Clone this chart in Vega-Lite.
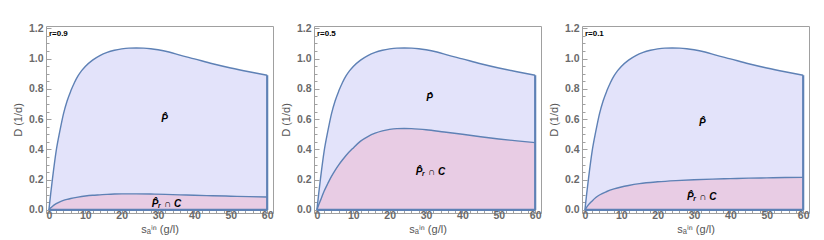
{
  "$schema": "https://vega.github.io/schema/vega-lite/v6.json",
  "background": "white",
  "padding": {"left": 11, "top": 22, "right": 0, "bottom": 0},
  "config": {
    "view": {"stroke": "#a0a0a0", "strokeWidth": 1},
    "concat": {"spacing": 5},
    "axis": {
      "grid": false, "domain": false, "labelOverlap": false, "labelSeparation": 0, "zindex": 1,
      "labelFont": "Liberation Sans", "labelFontWeight": "bold", "labelFontSize": 10.5, "labelColor": "#6a6a6a",
      "titleFont": "Liberation Sans", "titleFontWeight": "normal", "titleFontSize": 11, "titleColor": "#555555",
      "tickColor": "#a0a0a0"
    }
  },
  "datasets": {
    "upper": [
      {"x": 0, "d": 0}, {"x": 0.5, "d": 0.11}, {"x": 1, "d": 0.21}, {"x": 2, "d": 0.39}, {"x": 3, "d": 0.52},
      {"x": 4, "d": 0.635}, {"x": 5, "d": 0.72}, {"x": 6, "d": 0.785}, {"x": 7, "d": 0.84}, {"x": 8, "d": 0.885},
      {"x": 9, "d": 0.92}, {"x": 10, "d": 0.948}, {"x": 12, "d": 0.99}, {"x": 14, "d": 1.02}, {"x": 16, "d": 1.041},
      {"x": 18, "d": 1.055}, {"x": 20, "d": 1.064}, {"x": 22, "d": 1.069}, {"x": 24, "d": 1.07}, {"x": 26, "d": 1.069},
      {"x": 28, "d": 1.065}, {"x": 30, "d": 1.058}, {"x": 33, "d": 1.043}, {"x": 36, "d": 1.023}, {"x": 40, "d": 0.998},
      {"x": 45, "d": 0.966}, {"x": 50, "d": 0.938}, {"x": 55, "d": 0.913}, {"x": 60, "d": 0.89}
    ],
    "lower": [
      {"p": "a", "x": 0, "d": 0}, {"p": "a", "x": 0.5, "d": 0.014}, {"p": "a", "x": 1, "d": 0.025}, {"p": "a", "x": 2, "d": 0.042},
      {"p": "a", "x": 3, "d": 0.054}, {"p": "a", "x": 4, "d": 0.063}, {"p": "a", "x": 5, "d": 0.07}, {"p": "a", "x": 6, "d": 0.076},
      {"p": "a", "x": 8, "d": 0.085}, {"p": "a", "x": 10, "d": 0.092}, {"p": "a", "x": 12, "d": 0.097}, {"p": "a", "x": 14, "d": 0.1},
      {"p": "a", "x": 16, "d": 0.103}, {"p": "a", "x": 18, "d": 0.105}, {"p": "a", "x": 20, "d": 0.106}, {"p": "a", "x": 24, "d": 0.106},
      {"p": "a", "x": 28, "d": 0.105}, {"p": "a", "x": 32, "d": 0.103}, {"p": "a", "x": 36, "d": 0.1}, {"p": "a", "x": 40, "d": 0.097},
      {"p": "a", "x": 45, "d": 0.094}, {"p": "a", "x": 50, "d": 0.091}, {"p": "a", "x": 55, "d": 0.088}, {"p": "a", "x": 60, "d": 0.086},

      {"p": "b", "x": 0, "d": 0}, {"p": "b", "x": 0.5, "d": 0.034}, {"p": "b", "x": 1, "d": 0.065}, {"p": "b", "x": 2, "d": 0.125},
      {"p": "b", "x": 3, "d": 0.175}, {"p": "b", "x": 4, "d": 0.222}, {"p": "b", "x": 5, "d": 0.262}, {"p": "b", "x": 6, "d": 0.298},
      {"p": "b", "x": 7, "d": 0.33}, {"p": "b", "x": 8, "d": 0.36}, {"p": "b", "x": 10, "d": 0.41}, {"p": "b", "x": 12, "d": 0.455},
      {"p": "b", "x": 14, "d": 0.485}, {"p": "b", "x": 16, "d": 0.507}, {"p": "b", "x": 18, "d": 0.522}, {"p": "b", "x": 20, "d": 0.532},
      {"p": "b", "x": 22, "d": 0.537}, {"p": "b", "x": 24, "d": 0.538}, {"p": "b", "x": 26, "d": 0.537}, {"p": "b", "x": 28, "d": 0.534},
      {"p": "b", "x": 30, "d": 0.53}, {"p": "b", "x": 35, "d": 0.515}, {"p": "b", "x": 40, "d": 0.5}, {"p": "b", "x": 45, "d": 0.484},
      {"p": "b", "x": 50, "d": 0.469}, {"p": "b", "x": 55, "d": 0.456}, {"p": "b", "x": 60, "d": 0.445},

      {"p": "c", "x": 0, "d": 0}, {"p": "c", "x": 0.5, "d": 0.019}, {"p": "c", "x": 1, "d": 0.035}, {"p": "c", "x": 2, "d": 0.06},
      {"p": "c", "x": 3, "d": 0.082}, {"p": "c", "x": 4, "d": 0.099}, {"p": "c", "x": 6, "d": 0.122}, {"p": "c", "x": 8, "d": 0.139},
      {"p": "c", "x": 10, "d": 0.152}, {"p": "c", "x": 12, "d": 0.162}, {"p": "c", "x": 15, "d": 0.174}, {"p": "c", "x": 20, "d": 0.186},
      {"p": "c", "x": 25, "d": 0.194}, {"p": "c", "x": 30, "d": 0.2}, {"p": "c", "x": 35, "d": 0.204}, {"p": "c", "x": 40, "d": 0.207},
      {"p": "c", "x": 45, "d": 0.21}, {"p": "c", "x": 50, "d": 0.212}, {"p": "c", "x": 55, "d": 0.214}, {"p": "c", "x": 60, "d": 0.215}
    ],
    "labels": [
      {"p": "a", "k": "r", "x": 0, "d": 1.165, "t": "r=0.9"},
      {"p": "a", "k": "m", "x": 31.8, "d": 0.6, "t": "P̂"},
      {"p": "a", "k": "m", "x": 32.3, "d": 0.042, "t": "P̂ᵣ ∩ C"},
      {"p": "b", "k": "r", "x": 0, "d": 1.165, "t": "r=0.5"},
      {"p": "b", "k": "m", "x": 31, "d": 0.737, "t": "P̂"},
      {"p": "b", "k": "m", "x": 31.2, "d": 0.25, "t": "P̂ᵣ ∩ C"},
      {"p": "c", "k": "r", "x": 0, "d": 1.165, "t": "r=0.1"},
      {"p": "c", "k": "m", "x": 32.3, "d": 0.573, "t": "P̂"},
      {"p": "c", "k": "m", "x": 32.1, "d": 0.086, "t": "P̂ᵣ ∩ C"}
    ]
  },
  "hconcat": [
    {
      "width": 227, "height": 187,
      "encoding": {
        "x": {"field": "x", "type": "quantitative", "scale": {"domain": [-0.8, 61.6], "nice": false, "zero": false},
              "axis": {"values": [0,2,4,6,8,10,12,14,16,18,20,22,24,26,28,30,32,34,36,38,40,42,44,46,48,50,52,54,56,58,60],
                       "labelExpr": "datum.value % 10 === 0 ? datum.label : ''", "format": "d", "labelOverlap": false,
                       "tickSize": {"condition": {"test": "datum.value % 10 === 0", "value": -5}, "value": -3},
                       "labelPadding": 2, "title": "sₐⁱⁿ   (g/l)", "titlePadding": 1}},
        "y": {"field": "d", "type": "quantitative", "scale": {"domain": [-0.02, 1.215], "nice": false},
              "axis": {"values": [0,0.05,0.1,0.15,0.2,0.25,0.3,0.35,0.4,0.45,0.5,0.55,0.6,0.65,0.7,0.75,0.8,0.85,0.9,0.95,1,1.05,1.1,1.15,1.2],
                       "labelExpr": "round(datum.value*20) % 4 === 0 ? format(datum.value, '.1f') : ''", "labelOverlap": false,
                       "tickSize": {"condition": {"test": "round(datum.value*20) % 4 === 0", "value": -5}, "value": -3},
                       "labelPadding": 8, "title": "D   (1/d)", "titlePadding": 5}}
      },
      "layer": [
        {"data": {"name": "upper"}, "mark": {"type": "area", "color": "#E3E3FA", "interpolate": "monotone"}},
        {"data": {"name": "lower"}, "transform": [{"filter": "datum.p === 'a'"}], "mark": {"type": "area", "color": "#E8CCE4", "interpolate": "monotone"}},
        {"data": {"name": "upper"}, "mark": {"type": "line", "color": "#5E81B5", "strokeWidth": 1.4, "interpolate": "monotone"}},
        {"data": {"name": "lower"}, "transform": [{"filter": "datum.p === 'a'"}], "mark": {"type": "line", "color": "#5E81B5", "strokeWidth": 1.4, "interpolate": "monotone"}},
        {"data": {"name": "upper"}, "transform": [{"filter": "datum.x === 60"}], "mark": {"type": "rule", "color": "#5E81B5", "strokeWidth": 2.2},
         "encoding": {"y2": {"datum": 0}}},
        {"data": {"name": "upper"}, "mark": {"type": "line", "color": "#5E81B5", "strokeWidth": 2.2},
         "encoding": {"y": {"datum": 0}}},
        {"data": {"name": "labels"}, "transform": [{"filter": "datum.p === 'a' && datum.k === 'r'"}],
         "mark": {"type": "text", "align": "left", "baseline": "middle", "font": "Liberation Sans", "fontWeight": "bold", "fontSize": 8, "color": "black"},
         "encoding": {"text": {"field": "t"}}},
        {"data": {"name": "labels"}, "transform": [{"filter": "datum.p === 'a' && datum.k === 'm'"}],
         "mark": {"type": "text", "align": "center", "baseline": "middle", "font": "Liberation Sans", "fontWeight": "bold", "fontStyle": "italic", "fontSize": 10, "color": "black"},
         "encoding": {"text": {"field": "t"}}}
      ]
    },
    {
      "width": 227, "height": 187,
      "encoding": {
        "x": {"field": "x", "type": "quantitative", "scale": {"domain": [-0.8, 61.6], "nice": false, "zero": false},
              "axis": {"values": [0,2,4,6,8,10,12,14,16,18,20,22,24,26,28,30,32,34,36,38,40,42,44,46,48,50,52,54,56,58,60],
                       "labelExpr": "datum.value % 10 === 0 ? datum.label : ''", "format": "d", "labelOverlap": false,
                       "tickSize": {"condition": {"test": "datum.value % 10 === 0", "value": -5}, "value": -3},
                       "labelPadding": 2, "title": "sₐⁱⁿ   (g/l)", "titlePadding": 1}},
        "y": {"field": "d", "type": "quantitative", "scale": {"domain": [-0.02, 1.215], "nice": false},
              "axis": {"values": [0,0.05,0.1,0.15,0.2,0.25,0.3,0.35,0.4,0.45,0.5,0.55,0.6,0.65,0.7,0.75,0.8,0.85,0.9,0.95,1,1.05,1.1,1.15,1.2],
                       "labelExpr": "round(datum.value*20) % 4 === 0 ? format(datum.value, '.1f') : ''", "labelOverlap": false,
                       "tickSize": {"condition": {"test": "round(datum.value*20) % 4 === 0", "value": -5}, "value": -3},
                       "labelPadding": 8, "title": "D   (1/d)", "titlePadding": 5}}
      },
      "layer": [
        {"data": {"name": "upper"}, "mark": {"type": "area", "color": "#E3E3FA", "interpolate": "monotone"}},
        {"data": {"name": "lower"}, "transform": [{"filter": "datum.p === 'b'"}], "mark": {"type": "area", "color": "#E8CCE4", "interpolate": "monotone"}},
        {"data": {"name": "upper"}, "mark": {"type": "line", "color": "#5E81B5", "strokeWidth": 1.4, "interpolate": "monotone"}},
        {"data": {"name": "lower"}, "transform": [{"filter": "datum.p === 'b'"}], "mark": {"type": "line", "color": "#5E81B5", "strokeWidth": 1.4, "interpolate": "monotone"}},
        {"data": {"name": "upper"}, "transform": [{"filter": "datum.x === 60"}], "mark": {"type": "rule", "color": "#5E81B5", "strokeWidth": 2.2},
         "encoding": {"y2": {"datum": 0}}},
        {"data": {"name": "upper"}, "mark": {"type": "line", "color": "#5E81B5", "strokeWidth": 2.2},
         "encoding": {"y": {"datum": 0}}},
        {"data": {"name": "labels"}, "transform": [{"filter": "datum.p === 'b' && datum.k === 'r'"}],
         "mark": {"type": "text", "align": "left", "baseline": "middle", "font": "Liberation Sans", "fontWeight": "bold", "fontSize": 8, "color": "black"},
         "encoding": {"text": {"field": "t"}}},
        {"data": {"name": "labels"}, "transform": [{"filter": "datum.p === 'b' && datum.k === 'm'"}],
         "mark": {"type": "text", "align": "center", "baseline": "middle", "font": "Liberation Sans", "fontWeight": "bold", "fontStyle": "italic", "fontSize": 10, "color": "black"},
         "encoding": {"text": {"field": "t"}}}
      ]
    },
    {
      "width": 227, "height": 187,
      "encoding": {
        "x": {"field": "x", "type": "quantitative", "scale": {"domain": [-0.8, 61.6], "nice": false, "zero": false},
              "axis": {"values": [0,2,4,6,8,10,12,14,16,18,20,22,24,26,28,30,32,34,36,38,40,42,44,46,48,50,52,54,56,58,60],
                       "labelExpr": "datum.value % 10 === 0 ? datum.label : ''", "format": "d", "labelOverlap": false,
                       "tickSize": {"condition": {"test": "datum.value % 10 === 0", "value": -5}, "value": -3},
                       "labelPadding": 2, "title": "sₐⁱⁿ   (g/l)", "titlePadding": 1}},
        "y": {"field": "d", "type": "quantitative", "scale": {"domain": [-0.02, 1.215], "nice": false},
              "axis": {"values": [0,0.05,0.1,0.15,0.2,0.25,0.3,0.35,0.4,0.45,0.5,0.55,0.6,0.65,0.7,0.75,0.8,0.85,0.9,0.95,1,1.05,1.1,1.15,1.2],
                       "labelExpr": "round(datum.value*20) % 4 === 0 ? format(datum.value, '.1f') : ''", "labelOverlap": false,
                       "tickSize": {"condition": {"test": "round(datum.value*20) % 4 === 0", "value": -5}, "value": -3},
                       "labelPadding": 8, "title": "D   (1/d)", "titlePadding": 5}}
      },
      "layer": [
        {"data": {"name": "upper"}, "mark": {"type": "area", "color": "#E3E3FA", "interpolate": "monotone"}},
        {"data": {"name": "lower"}, "transform": [{"filter": "datum.p === 'c'"}], "mark": {"type": "area", "color": "#E8CCE4", "interpolate": "monotone"}},
        {"data": {"name": "upper"}, "mark": {"type": "line", "color": "#5E81B5", "strokeWidth": 1.4, "interpolate": "monotone"}},
        {"data": {"name": "lower"}, "transform": [{"filter": "datum.p === 'c'"}], "mark": {"type": "line", "color": "#5E81B5", "strokeWidth": 1.4, "interpolate": "monotone"}},
        {"data": {"name": "upper"}, "transform": [{"filter": "datum.x === 60"}], "mark": {"type": "rule", "color": "#5E81B5", "strokeWidth": 2.2},
         "encoding": {"y2": {"datum": 0}}},
        {"data": {"name": "upper"}, "mark": {"type": "line", "color": "#5E81B5", "strokeWidth": 2.2},
         "encoding": {"y": {"datum": 0}}},
        {"data": {"name": "labels"}, "transform": [{"filter": "datum.p === 'c' && datum.k === 'r'"}],
         "mark": {"type": "text", "align": "left", "baseline": "middle", "font": "Liberation Sans", "fontWeight": "bold", "fontSize": 8, "color": "black"},
         "encoding": {"text": {"field": "t"}}},
        {"data": {"name": "labels"}, "transform": [{"filter": "datum.p === 'c' && datum.k === 'm'"}],
         "mark": {"type": "text", "align": "center", "baseline": "middle", "font": "Liberation Sans", "fontWeight": "bold", "fontStyle": "italic", "fontSize": 10, "color": "black"},
         "encoding": {"text": {"field": "t"}}}
      ]
    }
  ]
}
